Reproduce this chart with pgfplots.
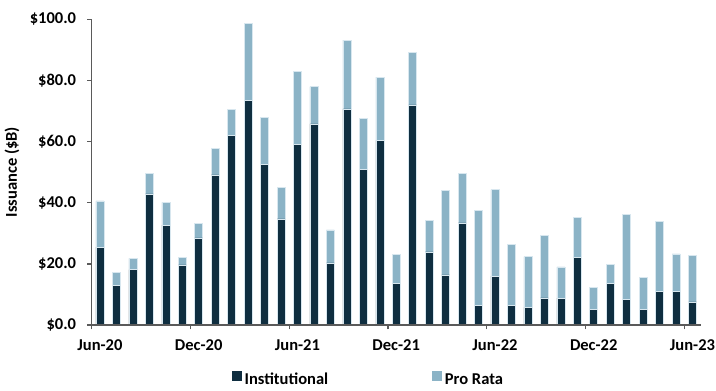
\documentclass[border=0pt]{standalone}
\usepackage{pgfplots}
\pgfplotsset{compat=1.18}
\usepackage{pgfplotstable}
\usepackage{fontspec}
\setmainfont{Carlito}

\definecolor{instcol}{HTML}{0F2E40}
\definecolor{procol}{HTML}{8BB3C6}
\definecolor{edgecol}{HTML}{D8E7EF}
\definecolor{axcol}{HTML}{5A5A5A}

% month index, institutional and pro rata issuance ($B)
\pgfplotstableread{
idx inst pro
0  25.5 15.1
1  13.0 4.2
2  18.1 3.7
3  42.9 6.6
4  32.7 7.4
5  19.7 2.3
6  28.5 4.8
7  49.1 8.6
8  61.9 8.6
9  73.4 25.3
10 52.6 15.3
11 34.7 10.2
12 59.2 23.8
13 65.8 12.2
14 20.3 10.8
15 70.7 22.5
16 50.9 16.6
17 60.4 20.7
18 13.7 9.3
19 72.0 17.2
20 23.9 10.4
21 16.4 27.7
22 33.4 16.3
23 6.3  31.2
24 16.0 28.3
25 6.4  20.0
26 5.8  16.6
27 8.9  20.3
28 8.8  10.2
29 22.0 13.2
30 5.0  7.4
31 13.7 6.1
32 8.3  27.9
33 5.2  10.5
34 11.1 22.8
35 11.0 12.3
36 7.6  15.1
}\issuance

\newcommand{\lblfont}{\fontsize{12.4}{14}\selectfont\bfseries}

\begin{document}
\begin{tikzpicture}
\useasboundingbox (0,0) rectangle (537pt,292.5pt);
\begin{axis}[
  at={(68.8pt,48.75pt)}, anchor=south west,
  scale only axis, width=456.75pt, height=229.3pt,
  ybar stacked, bar width=6pt,
  xmin=-0.5, xmax=36.5, ymin=0, ymax=100,
  axis on top,
  axis x line*=bottom, axis y line*=left,
  axis line style={draw=axcol, line width=1pt},
  tick align=outside, major tick length=3.2pt,
  every tick/.style={draw=axcol, line width=1pt},
  xtick={-0.5,5.5,11.5,17.5,23.5,29.5,35.5},
  xticklabels={Jun-20,Dec-20,Jun-21,Dec-21,Jun-22,Dec-22,Jun-23},
  xticklabel style={xshift=6.17pt, yshift=-4pt, font=\lblfont},
  ytick={0,20,40,60,80,100},
  yticklabel={\$\pgfmathprintnumber[fixed,fixed zerofill,precision=1]{\tick}},
  yticklabel style={xshift=-5pt, font=\lblfont},
  /pgf/number format/assume math mode=true,
  ylabel={Issuance (\$B)},
  every axis y label/.style={at={(axis description cs:-0.131,0.5)}, rotate=90, anchor=center, font=\lblfont},
  legend style={at={(0.455,-0.18)}, anchor=center, draw=none, fill=none,
    legend columns=2, font=\lblfont,
    /tikz/every even column/.append style={column sep=76pt},
    nodes={inner xsep=2pt}},
  legend image code/.code={\fill[#1,draw=none] (0pt,-0.5pt) rectangle (7.5pt,7pt);},
]
\addplot[fill=instcol, draw=edgecol, line width=0.4pt] table[x=idx, y=inst] {\issuance};
\addlegendentry{Institutional}
\addplot[fill=procol, draw=edgecol, line width=0.4pt] table[x=idx, y=pro] {\issuance};
\addlegendentry{Pro Rata}
\end{axis}
\end{tikzpicture}
\end{document}
